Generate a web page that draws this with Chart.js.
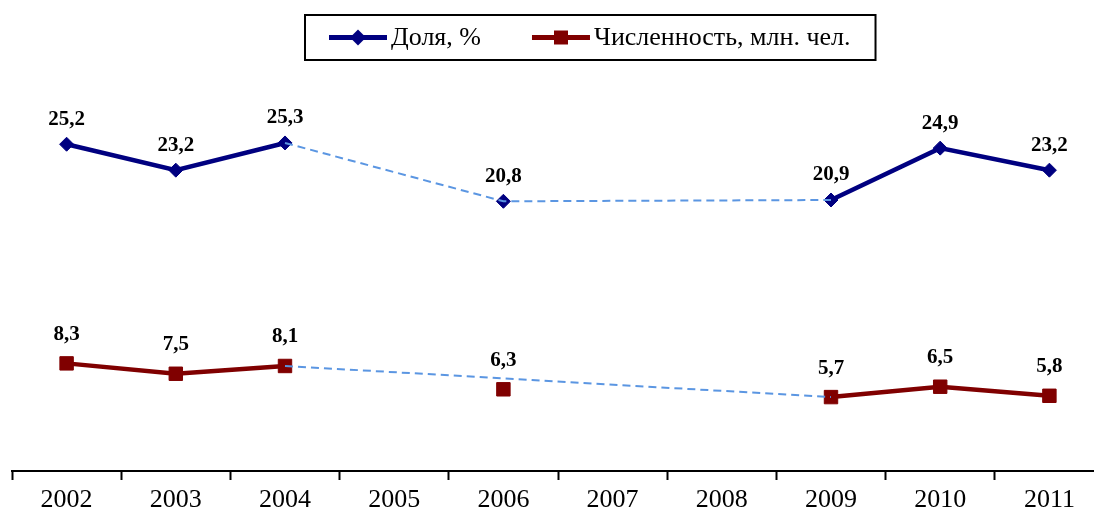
<!DOCTYPE html>
<html lang="ru">
<head>
<meta charset="UTF-8">
<title>Доля и численность</title>
<script src="https://cdn.jsdelivr.net/npm/chart.js"></script>
<style>
  html, body { margin: 0; padding: 0; background: #fff; overflow: hidden; }
  #wrap { width: 1094px; height: 523px; overflow: hidden; position: relative; }
  #chart { display: block; position: absolute; left: 0; top: 0; }
</style>
</head>
<body>
<div id="wrap">
  <canvas id="chart" width="1104" height="523" style="width:1104px;height:523px"></canvas>
</div>
<script>
const years = ['2002', '2003', '2004', '2005', '2006', '2007', '2008', '2009', '2010', '2011'];
const shareValues = [25.2, 23.2, 25.3, null, 20.8, null, null, 20.9, 24.9, 23.2];
const countValues = [8.3, 7.5, 8.1, null, 6.3, null, null, 5.7, 6.5, 5.8];
// dashed connectors over the missing years (as drawn in the picture)
const shareGapValues = [null, null, 25.3, null, 20.8, null, null, 20.9, null, null];
const countGapValues = [null, null, 8.1, null, null, null, null, 5.7, null, null];

const NAVY = '#000080';
const MAROON = '#800000';
const DASH = '#5b96e2';
const SERIF = '"Liberation Serif", "Times New Roman", serif';

function drawMarker(ctx, style, x, y, r, color) {
    ctx.fillStyle = color;
    ctx.beginPath();
    if (style === 'diamond') {
        ctx.moveTo(x - r, y); ctx.lineTo(x, y - r); ctx.lineTo(x + r, y); ctx.lineTo(x, y + r);
    } else {
        ctx.rect(x - r, y - r, 2 * r, 2 * r);
    }
    ctx.closePath();
    ctx.fill();
}

// legend in a black frame: line sample with marker + text
const boxLegend = {
    id: 'boxLegend',
    afterDraw(chart) {
        const ctx = chart.ctx;
        const items = [
            { text: 'Доля, %', color: NAVY, style: 'diamond', r: 8 },
            { text: 'Численность, млн. чел.', color: MAROON, style: 'square', r: 7 }
        ];
        ctx.save();
        ctx.font = '26px ' + SERIF;
        const left = 305, top = 15, h = 45, cy = top + h / 2;
        let x = left + 24;
        items.forEach((it, i) => {
            ctx.strokeStyle = it.color;
            ctx.lineWidth = 5;
            ctx.beginPath();
            ctx.moveTo(x, cy);
            ctx.lineTo(x + 58, cy);
            ctx.stroke();
            drawMarker(ctx, it.style, x + 29, cy, it.r, it.color);
            ctx.fillStyle = '#000';
            ctx.textBaseline = 'middle';
            ctx.textAlign = 'left';
            ctx.fillText(it.text, x + 62, cy + 1);
            x += 62 + ctx.measureText(it.text).width;
            if (i < items.length - 1) x += 51;
        });
        ctx.strokeStyle = '#000';
        ctx.lineWidth = 2;
        ctx.strokeRect(left, top, x + 25 - left, h);
        ctx.restore();
    }
};

// bold value labels above the points, decimal comma
const valueLabels = {
    id: 'valueLabels',
    afterDatasetsDraw(chart) {
        const ctx = chart.ctx;
        ctx.save();
        ctx.font = 'bold 21px ' + SERIF;
        ctx.fillStyle = '#000';
        ctx.textAlign = 'center';
        ctx.textBaseline = 'middle';
        chart.data.datasets.forEach((ds, di) => {
            if (!ds.labelOffset) return;
            chart.getDatasetMeta(di).data.forEach((pt, i) => {
                const v = ds.data[i];
                if (v === null) return;
                ctx.fillText(v.toFixed(1).replace('.', ','), pt.x, pt.y - ds.labelOffset);
            });
        });
        ctx.restore();
    }
};

new Chart(document.getElementById('chart'), {
    type: 'line',
    data: {
        labels: years,
        datasets: [
            {
                label: 'Доля, % (пропуск)',
                data: shareGapValues,
                borderColor: DASH,
                borderWidth: 2,
                borderDash: [8, 5],
                pointRadius: 0,
                spanGaps: true,
                order: 0
            },
            {
                label: 'Численность (пропуск)',
                data: countGapValues,
                borderColor: DASH,
                borderWidth: 2,
                borderDash: [8, 5],
                pointRadius: 0,
                spanGaps: true,
                order: 0
            },
            {
                label: 'Доля, %',
                data: shareValues,
                borderColor: NAVY,
                backgroundColor: NAVY,
                borderWidth: 4.5,
                pointStyle: 'rectRot',
                pointRadius: 7,
                pointBorderWidth: 1,
                spanGaps: false,
                labelOffset: 25,
                order: 1
            },
            {
                label: 'Численность, млн. чел.',
                data: countValues,
                borderColor: MAROON,
                backgroundColor: MAROON,
                borderWidth: 4.5,
                pointStyle: 'rect',
                pointRadius: 9.5,
                pointBorderWidth: 1,
                spanGaps: false,
                labelOffset: 29,
                order: 1
            }
        ]
    },
    options: {
        responsive: false,
        animation: false,
        layout: { autoPadding: false, padding: { top: 82, left: 12, right: 0, bottom: 0 } },
        plugins: {
            legend: { display: false },
            tooltip: { enabled: false }
        },
        scales: {
            y: { display: false, min: 0, max: 30 },
            x: {
                offset: true,
                afterFit: (scale) => {
                    scale.height = 52;
                    scale.paddingLeft = 0;
                    scale.paddingRight = 0;
                },
                border: { display: true, color: '#000', width: 2 },
                grid: {
                    offset: true,
                    drawOnChartArea: false,
                    drawTicks: true,
                    tickLength: 9,
                    tickColor: '#000',
                    tickWidth: 2
                },
                ticks: {
                    color: '#000',
                    padding: 5,
                    maxRotation: 0,
                    font: { family: SERIF, size: 26 }
                }
            }
        }
    },
    plugins: [boxLegend, valueLabels]
});
</script>
</body>
</html>
